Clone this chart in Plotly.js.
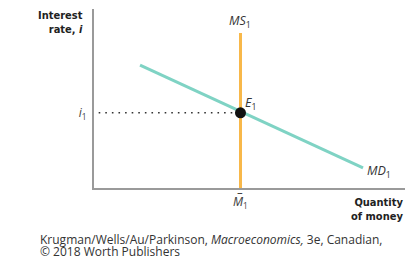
<!DOCTYPE html>
<html><head><meta charset="utf-8">
<script src="https://cdn.plot.ly/plotly-3.0.1.min.js"></script>
<style>html,body{margin:0;padding:0;background:#fff;}#c{width:413px;height:258px;}</style>
</head><body><div id="c"></div>
<script>
// Money demand curve MD1 (quantity of money, interest rate)
const mdX = [1.48, 8.65];
const mdY = [6.87, 1.12];
// Money supply curve MS1 (vertical at M-bar)
const msX = [4.71, 4.71];
const msY = [0, 8.66];
// Equilibrium E1
const eqX = [4.71];
const eqY = [4.2];
// Dotted guide from the axis to E1
const guideX = [0.15, 4.71];
const guideY = [4.2, 4.2];
// Tick labels
const xTickLabels = ['<i>M\u0305</i><sub>1</sub>'];
const yTickLabels = ['<i>i</i><sub>1</sub>'];

const F = 'Open Sans, Noto Sans, sans-serif';
const B = 'DejaVu Sans Condensed, ' + F;
const traces = [
  {x: guideX, y: guideY, mode: 'lines', line: {color: '#333', width: 1.6, dash: '1.6px,5px'}, hoverinfo: 'skip'},
  {x: mdX, y: mdY, mode: 'lines', line: {color: '#7fd3c4', width: 3}, hoverinfo: 'skip'},
  {x: msX, y: msY, mode: 'lines', line: {color: '#f8b84a', width: 3}, hoverinfo: 'skip'},
  {x: eqX, y: eqY, mode: 'markers', marker: {color: '#111', size: 11}, hoverinfo: 'skip'}
];
const layout = {
  width: 413, height: 258,
  margin: {l: 94, r: 8, t: 9, b: 70},
  paper_bgcolor: '#fff', plot_bgcolor: '#fff',
  showlegend: false,
  font: {family: F, size: 11, color: '#333'},
  xaxis: {range: [0, 10], showgrid: false, zeroline: false, showline: true, linecolor: '#9a9a9a', linewidth: 2,
          tickvals: eqX, ticktext: xTickLabels, ticks: '', ticklabelstandoff: 2, tickfont: {family: F, size: 12, color: '#444'}, fixedrange: true},
  yaxis: {range: [0, 10], showgrid: false, zeroline: false, showline: true, linecolor: '#9a9a9a', linewidth: 2,
          tickvals: eqY, ticktext: yTickLabels, ticks: '', ticklabelstandoff: 3, tickfont: {family: F, size: 12, color: '#444'}, fixedrange: true},
  annotations: [
    {xref: 'paper', yref: 'paper', x: -0.03, y: 1.01, xanchor: 'right', yanchor: 'top', align: 'right', showarrow: false,
     text: '<b>Interest<br>rate, <i>i</i></b>', font: {family: B, size: 11, color: '#222'}},
    {xref: 'paper', yref: 'paper', x: 1.0, y: -0.035, xanchor: 'right', yanchor: 'top', align: 'right', showarrow: false,
     text: '<b>Quantity<br>of money</b>', font: {family: B, size: 11, color: '#222'}},
    {xref: 'x', yref: 'y', x: msX[1], y: msY[1], xanchor: 'center', yanchor: 'bottom', showarrow: false, yshift: 0,
     text: '<i>MS</i><sub>1</sub>', font: {family: F, size: 12.5, color: '#333'}},
    {xref: 'x', yref: 'y', x: eqX[0], y: eqY[0], xanchor: 'left', yanchor: 'bottom', showarrow: false, xshift: 3, yshift: -2,
     text: '<i>E</i><sub>1</sub>', font: {family: F, size: 12.5, color: '#333'}},
    {xref: 'x', yref: 'y', x: mdX[1], y: mdY[1], xanchor: 'left', yanchor: 'middle', showarrow: false, xshift: 2, yshift: -4,
     text: '<i>MD</i><sub>1</sub>', font: {family: F, size: 12.5, color: '#333'}},
    {xref: 'paper', yref: 'paper', x: -0.18, y: -0.228, xanchor: 'left', yanchor: 'top', align: 'left', showarrow: false,
     text: 'Krugman/Wells/Au/Parkinson, <i>Macroeconomics,</i> 3e, Canadian,',
     font: {family: F, size: 12, color: '#333'}},
    {xref: 'paper', yref: 'paper', x: -0.18, y: -0.298, xanchor: 'left', yanchor: 'top', align: 'left', showarrow: false,
     text: '© 2018 Worth Publishers',
     font: {family: F, size: 12, color: '#333'}}
  ]
};
Plotly.newPlot('c', traces, layout, {displayModeBar: false, staticPlot: true});
</script></body></html>
